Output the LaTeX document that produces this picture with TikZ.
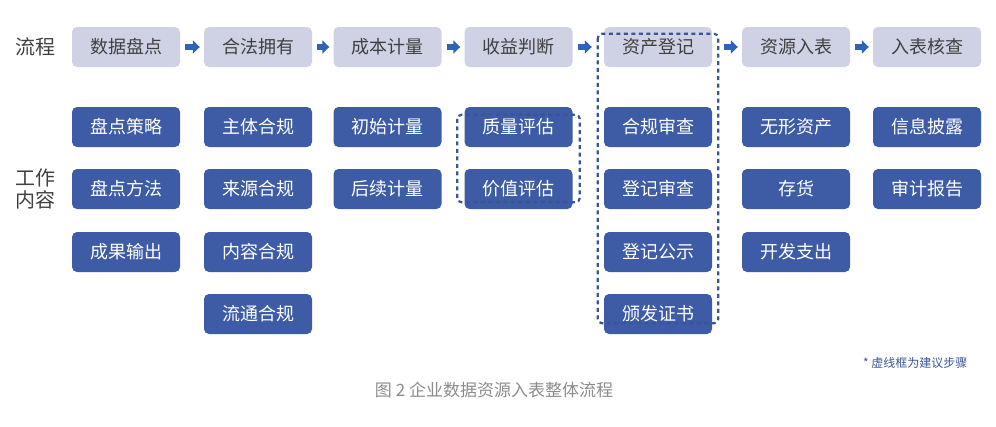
\documentclass[tikz,border=0pt]{standalone}
\usepackage{fontspec}
\setmainfont{Noto Sans CJK SC}
\usetikzlibrary{arrows.meta}
\definecolor{stepgray}{HTML}{CFD2E5}
\definecolor{stepblue}{HTML}{3D5CA5}
\definecolor{arrowblue}{HTML}{2E63B8}
\definecolor{dashblue}{HTML}{3A5597}
\definecolor{textdark}{HTML}{404040}
\tikzset{
  stepbox/.style={rounded corners=5pt,minimum width=108pt,minimum height=40pt,inner sep=0pt,
    font=\fontsize{18}{20}\selectfont},
  flowbox/.style={stepbox,fill=stepgray,text=textdark},
  workbox/.style={stepbox,fill=stepblue,text=white},
  flowarrow/.style={arrowblue,line width=6pt,-{Triangle[length=7pt,width=13pt]}},
  suggest/.style={dashblue,line width=2.2pt,dash pattern=on 4pt off 3.5pt,rounded corners=4pt}
}
\begin{document}
\begin{tikzpicture}[line cap=butt,line join=round,x=1pt,y=-1pt]
  \useasboundingbox (0,0) rectangle (996,426);
  % row labels
  \node[text=textdark,font=\fontsize{20}{22}\selectfont] (lflow) at (35,47) {流程};
  \node[text=textdark,font=\fontsize{20}{22}\selectfont,align=center] (lwork) at (35,189) {工作\\内容};
  % flow steps
  \node[flowbox] (f1) at (126,47) {数据盘点};
  \node[flowbox] (f2) at (258,47) {合法拥有};
  \node[flowbox] (f3) at (387.5,47) {成本计量};
  \node[flowbox] (f4) at (518.5,47) {收益判断};
  \node[flowbox] (f5) at (658,47) {资产登记};
  \node[flowbox] (f6) at (796,47) {资源入表};
  \node[flowbox] (f7) at (927,47) {入表核查};
  \draw[flowarrow] ([xshift=5pt]f1.east) -- ([xshift=-4pt]f2.west);
  \draw[flowarrow] ([xshift=5pt]f2.east) -- ([xshift=-4pt]f3.west);
  \draw[flowarrow] ([xshift=5pt]f3.east) -- ([xshift=-4pt]f4.west);
  \draw[flowarrow] ([xshift=5pt]f4.east) -- ([xshift=-12pt]f5.west);
  \draw[flowarrow] ([xshift=12pt]f5.east) -- ([xshift=-4pt]f6.west);
  \draw[flowarrow] ([xshift=5pt]f6.east) -- ([xshift=-4pt]f7.west);
  % work contents
  \node[workbox] (w11) at (126,127) {盘点策略};
  \node[workbox] (w12) at (126,189) {盘点方法};
  \node[workbox] (w13) at (126,252) {成果输出};
  \node[workbox] (w21) at (258,127) {主体合规};
  \node[workbox] (w22) at (258,189) {来源合规};
  \node[workbox] (w23) at (258,252) {内容合规};
  \node[workbox] (w24) at (258,314) {流通合规};
  \node[workbox] (w31) at (387.5,127) {初始计量};
  \node[workbox] (w32) at (387.5,189) {后续计量};
  \node[workbox] (w41) at (518.5,127) {质量评估};
  \node[workbox] (w42) at (518.5,189) {价值评估};
  \node[workbox] (w51) at (658,127) {合规审查};
  \node[workbox] (w52) at (658,189) {登记审查};
  \node[workbox] (w53) at (658,252) {登记公示};
  \node[workbox] (w54) at (658,314) {颁发证书};
  \node[workbox] (w61) at (796,127) {无形资产};
  \node[workbox] (w62) at (796,189) {存货};
  \node[workbox] (w63) at (796,252) {开发支出};
  \node[workbox] (w71) at (927,127) {信息披露};
  \node[workbox] (w72) at (927,189) {审计报告};
  % suggested steps
  \draw[suggest] ([shift={(-7pt,-8pt)}]w41.north west) rectangle ([shift={(7pt,7pt)}]w42.south east);
  \draw[suggest] ([shift={(-6pt,-7pt)}]f5.north west) rectangle ([shift={(6pt,11pt)}]w54.south east);
  % notes
  \node[text=dashblue,font=\fontsize{12}{14}\selectfont,anchor=east] (note) at (971,363) {* 虚线框为建议步骤};
  \node[text=black!45,font=\fontsize{17}{19}\selectfont] (caption) at (494,390) {图 2 企业数据资源入表整体流程};
\end{tikzpicture}
\end{document}
